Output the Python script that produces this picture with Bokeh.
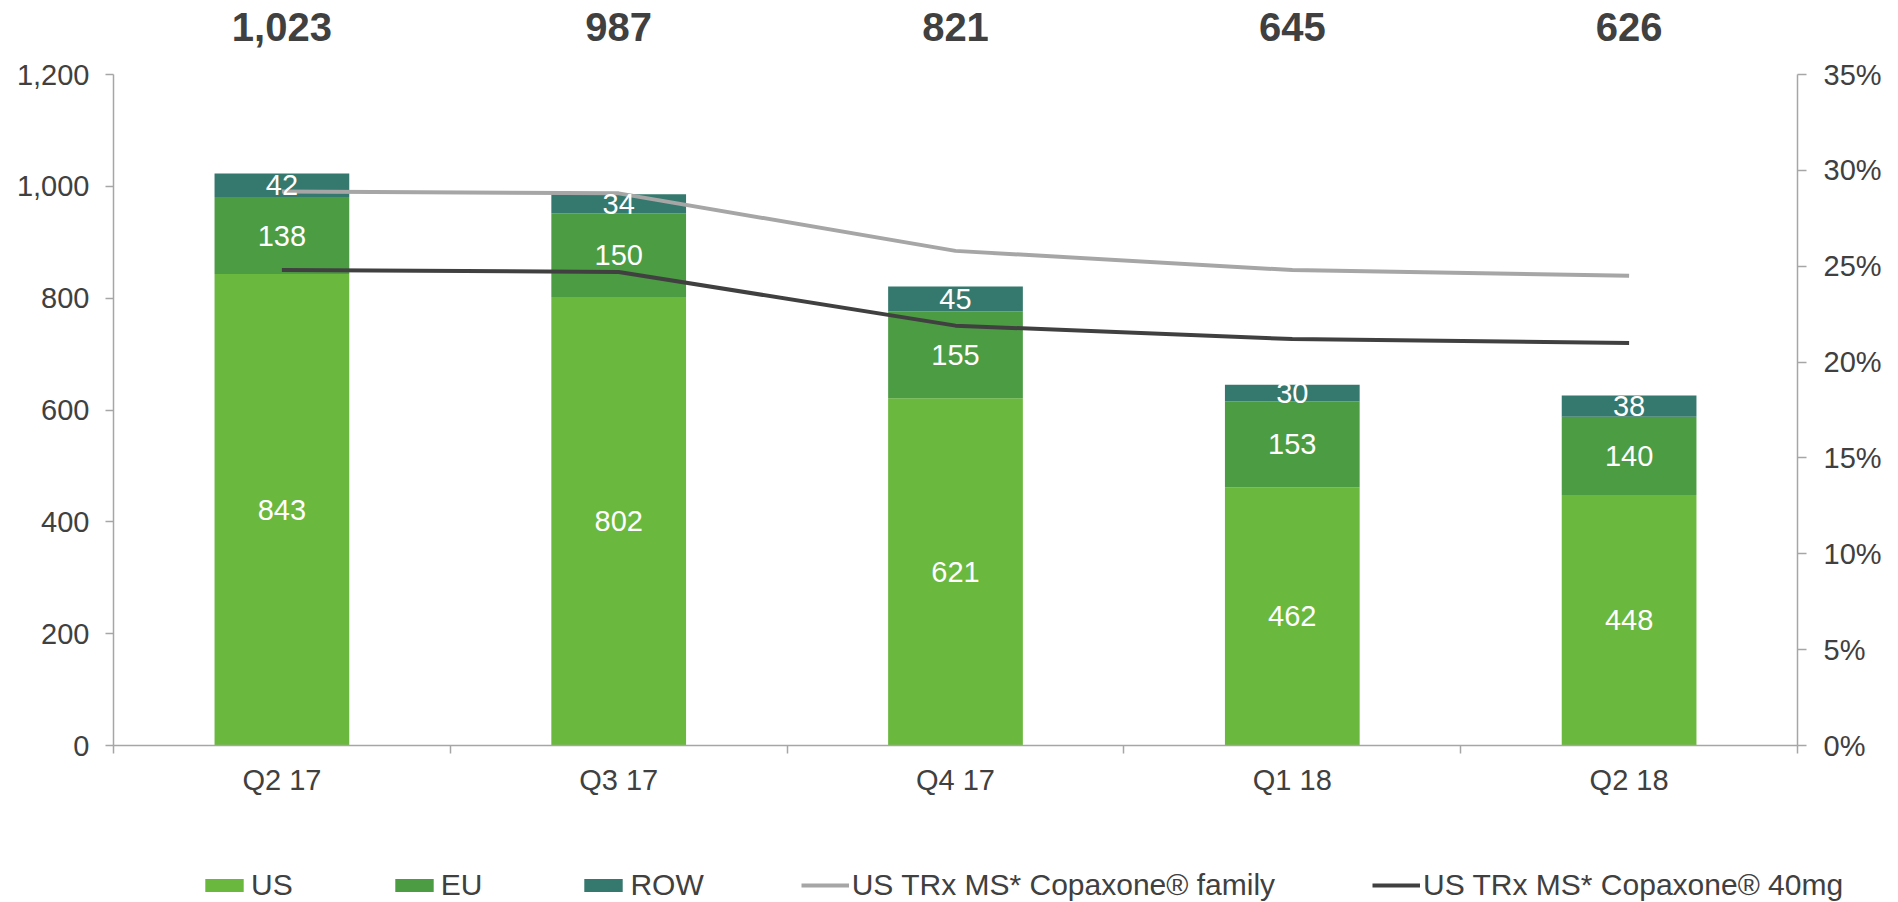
from bokeh.plotting import figure
from bokeh.layouts import column, row
from bokeh.models import (Range1d, LinearAxis, FixedTicker, NumeralTickFormatter,
                          PrintfTickFormatter, ColumnDataSource, Legend, LegendItem)
from bokeh.core.properties import value
from bokeh.embed import file_html
from bokeh.resources import INLINE

# ---------------- data ----------------
quarters = ["Q2 17", "Q3 17", "Q4 17", "Q1 18", "Q2 18"]
us = [843, 802, 621, 462, 448]
eu = [138, 150, 155, 153, 140]
row_vals = [42, 34, 45, 30, 38]
totals = [1023, 987, 821, 645, 626]
family_share = [28.9, 28.8, 25.8, 24.8, 24.5]   # % US TRx MS* Copaxone family
mg40_share = [24.8, 24.7, 21.9, 21.2, 21.0]     # % US TRx MS* Copaxone 40mg
left_ticks = [0, 200, 400, 600, 800, 1000, 1200]
right_ticks = [0, 5, 10, 15, 20, 25, 30, 35]
series_names = ["US", "EU", "ROW"]
line_names = ["US TRx MS* Copaxone\u00ae family", "US TRx MS* Copaxone\u00ae 40mg"]

# ---------------- styles ----------------
FONT = "Liberation Sans"
C_US = "#6AB83D"
C_EU = "#4C9C44"
C_ROW = "#35786D"
C_FAM = "#A6A6A6"
C_40 = "#404040"
TXT = "#404040"
AXC = "#A6A6A6"
FS = "29px"

W = 1898
H1, H2 = 860, 42
LEFT, RIGHT, BOTTOM, TOP = 113, 101, 115, 0
frame_h = H1 - TOP - BOTTOM
y_px_per_unit = (frame_h - 74) / left_ticks[-1]
y_max = frame_h / y_px_per_unit
pct_max = right_ticks[-1] * y_max / left_ticks[-1]
label_y = (frame_h - 26) / y_px_per_unit

n = len(quarters)
xs = [i + 0.5 for i in range(n)]
us_top = us
eu_bot = us
eu_top = [a + b for a, b in zip(us, eu)]
row_bot = eu_top
row_top = [a + b for a, b in zip(eu_top, row_vals)]

src = ColumnDataSource(dict(
    x=xs, us_top=us_top, eu_bot=eu_bot, eu_top=eu_top, row_bot=row_bot, row_top=row_top,
    us_mid=[t / 2 for t in us_top],
    eu_mid=[(a + b) / 2 for a, b in zip(eu_bot, eu_top)],
    row_mid=[(a + b) / 2 for a, b in zip(row_bot, row_top)],
    us_txt=[str(v) for v in us], eu_txt=[str(v) for v in eu], row_txt=[str(v) for v in row_vals],
    tot_txt=[f"{v:,}" for v in totals], tot_y=[label_y] * n,
    fam=family_share, m40=mg40_share,
))

p = figure(width=W, height=H1, output_backend="svg", toolbar_location=None,
           x_range=Range1d(0, n), y_range=Range1d(0, y_max),
           min_border_left=LEFT, min_border_right=RIGHT,
           min_border_bottom=BOTTOM, min_border_top=TOP,
           outline_line_color=None, background_fill_color="white")
p.grid.visible = False
p.extra_y_ranges = {"pct": Range1d(0, pct_max)}

bw = 0.4
bar_specs = [(C_US, 0, "us_top"), (C_EU, "eu_bot", "eu_top"), (C_ROW, "row_bot", "row_top")]
for col, bot, top in bar_specs:
    p.vbar(x="x", width=bw, bottom=bot, top=top, source=src, fill_color=col, line_color=None)

p.line(x="x", y="fam", source=src, y_range_name="pct", line_color=C_FAM, line_width=4)
p.line(x="x", y="m40", source=src, y_range_name="pct", line_color=C_40, line_width=4)

for ycol, tcol in (("us_mid", "us_txt"), ("eu_mid", "eu_txt"), ("row_mid", "row_txt")):
    p.text(x="x", y=ycol, text=tcol, source=src, text_color="white",
           text_font=value(FONT), text_font_size=FS,
           text_align="center", text_baseline="middle")

p.text(x="x", y="tot_y", text="tot_txt", source=src, text_color=TXT,
       text_font=value(FONT), text_font_size="40px", text_font_style="bold",
       text_align="center", text_baseline="middle")

# ---------------- axes ----------------
xa = p.xaxis[0]
xa.ticker = FixedTicker(ticks=xs, minor_ticks=list(range(n + 1)))
xa.major_label_overrides = {x: q for x, q in zip(xs, quarters)}
xa.major_tick_line_color = None
xa.major_tick_out = 0
xa.major_tick_in = 0
xa.minor_tick_out = 8
xa.minor_tick_in = 0
xa.minor_tick_line_color = AXC
xa.minor_tick_line_width = 1.5
xa.axis_line_color = AXC
xa.axis_line_width = 1.5
xa.major_label_text_font = FONT
xa.major_label_text_font_size = FS
xa.major_label_text_color = TXT
xa.major_label_standoff = 10

ya = p.yaxis[0]
ya.ticker = FixedTicker(ticks=left_ticks)
ya.formatter = NumeralTickFormatter(format="0,0")
ya.bounds = (left_ticks[0], left_ticks[-1])
ya.axis_line_color = AXC
ya.axis_line_width = 1.5
ya.major_tick_line_color = AXC
ya.major_tick_line_width = 1.5
ya.major_tick_out = 8
ya.major_tick_in = 0
ya.minor_tick_line_color = None
ya.major_label_text_font = FONT
ya.major_label_text_font_size = FS
ya.major_label_text_color = TXT
ya.major_label_standoff = 16

ra = LinearAxis(y_range_name="pct", ticker=FixedTicker(ticks=right_ticks),
                formatter=PrintfTickFormatter(format="%d%%"),
                bounds=(right_ticks[0], right_ticks[-1]))
ra.axis_line_color = AXC
ra.axis_line_width = 1.5
ra.major_tick_line_color = AXC
ra.major_tick_line_width = 1.5
ra.major_tick_out = 9
ra.major_tick_in = 0
ra.minor_tick_line_color = None
ra.major_label_text_font = FONT
ra.major_label_text_font_size = FS
ra.major_label_text_color = TXT
ra.major_label_standoff = 17
p.add_layout(ra, "right")

# ---------------- legend strip (second figure below the chart) ----------------
# The strip's ranges lie outside the data, so its glyphs only serve as legend swatches.
q = figure(width=W, height=H2, output_backend="svg", toolbar_location=None,
           x_range=Range1d(-3, -2), y_range=Range1d(-3, -2),
           x_axis_type=None, y_axis_type=None,
           min_border_left=0, min_border_right=0, min_border_top=0, min_border_bottom=0,
           outline_line_color=None, background_fill_color="white")
q.grid.visible = False
leg_bars = [q.vbar(x="x", width=bw, bottom=bot, top=top, source=src, fill_color=c, line_color=None)
            for c, bot, top in bar_specs]
leg_lines = [q.line(x="x", y=ycol, source=src, line_color=c, line_width=4)
             for c, ycol in ((C_FAM, "fam"), (C_40, "m40"))]

legend = Legend(items=[LegendItem(label=nm, renderers=[r])
                       for nm, r in zip(series_names + line_names, leg_bars + leg_lines)],
                orientation="horizontal", location=(200, 0),
                glyph_width=48, glyph_height=16, label_standoff=3, spacing=97,
                padding=0, margin=0, border_line_color=None, background_fill_alpha=0,
                label_text_font=FONT, label_text_font_size="30px", label_text_color=TXT)
q.add_layout(legend, "center")

layout = column(p, row(q), spacing=0)
open("out.html", "w").write(file_html(layout, INLINE))
